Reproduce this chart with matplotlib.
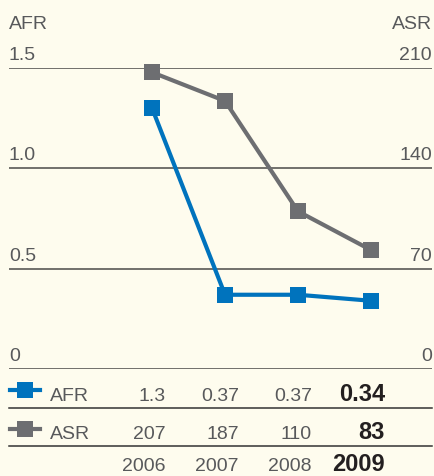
import matplotlib
matplotlib.use("Agg")
import matplotlib.pyplot as plt
from matplotlib import transforms
from matplotlib.lines import Line2D

plt.rcParams['font.family'] = ['Liberation Sans', 'DejaVu Sans']

# data
years = [2006, 2007, 2008, 2009]
afr = [1.3, 0.37, 0.37, 0.34]
asr = [207, 187, 110, 83]
afr_ticks = [0, 0.5, 1.0, 1.5]
asr_ticks = [0, 70, 140, 210]

BG = '#fefcee'
BLUE = '#0073bd'
GREY = '#6d6e71'
TXT = '#58595b'
DARK = '#231f20'
RULE = '#4a4a48'

W, H = 435, 477


def fx(px):
    return px / W


def fy(py):
    return 1 - py / H


fig = plt.figure(figsize=(W / 100, H / 100), dpi=100, facecolor=BG)
ax = fig.add_axes([fx(9), fy(370), fx(432) - fx(9), fy(69) - fy(370)])
ax.set_xlim(2004.04, 2009.836)
ax.set_ylim(0, 1.5)
ax.axis('off')

for v in afr_ticks:
    ax.axhline(v, color=RULE, lw=1.1, zorder=1)

ax2 = ax.twinx()
ax2.set_ylim(0, 210)
ax2.axis('off')

ax2.plot(years, asr, color=GREY, lw=3, marker='s', ms=12, mew=0, clip_on=False, zorder=3)
ax.plot(years, afr, color=BLUE, lw=3, marker='s', ms=12, mew=0, clip_on=False, zorder=3)

# axis labels sitting above the rules
ytr = ax.get_yaxis_transform()
ytr2 = ax2.get_yaxis_transform()
for v in afr_ticks:
    lab = '0' if v == 0 else f'{v:.1f}'
    ax.text(0, v + 0.045, lab, transform=ytr, ha='left', va='baseline', fontsize=14, color=TXT)
for v in asr_ticks:
    ax2.text(1, v + 6.3, str(v), transform=ytr2, ha='right', va='baseline', fontsize=14, color=TXT)
ax.text(0, 1.7, 'AFR', transform=ytr, ha='left', va='baseline', fontsize=14, color=TXT)
ax2.text(1, 238, 'ASR', transform=ytr2, ha='right', va='baseline', fontsize=14, color=TXT)

# table under the chart
tbl = transforms.blended_transform_factory(ax.transData, fig.transFigure)
rule_tr = transforms.blended_transform_factory(ax.transAxes, fig.transFigure)
for py in [409, 447]:
    ax.plot([0, 1], [fy(py)] * 2, transform=rule_tr, color='#333333', lw=1.1, clip_on=False)

rows = [(afr, [f'{v:g}' for v in afr], 401, BLUE, 'AFR', 390.5),
        (asr, [str(v) for v in asr], 439, GREY, 'ASR', 429.5)]
for vals, labels, base, col, name, my in rows:
    for i, (yr, lab) in enumerate(zip(years, labels)):
        last = i == len(years) - 1
        ax.text(yr + 0.19, fy(base), lab, transform=tbl, ha='right', va='baseline',
                fontsize=17 if last else 14, fontweight='bold' if last else 'normal',
                color=DARK if last else TXT)
    fig.add_artist(Line2D([fx(10), fx(40)], [fy(my)] * 2, transform=fig.transFigure, color=col, lw=3))
    fig.add_artist(Line2D([fx(25)], [fy(my)], transform=fig.transFigure, color=col,
                          marker='s', ms=11.5, mew=0, lw=0))
    fig.text(fx(50), fy(base), name, ha='left', va='baseline', fontsize=14, color=TXT)

for i, yr in enumerate(years):
    last = i == len(years) - 1
    ax.text(yr + 0.19, fy(471), str(yr), transform=tbl, ha='right', va='baseline',
            fontsize=17 if last else 14, fontweight='bold' if last else 'normal',
            color=DARK if last else TXT)

fig.savefig('out.png', dpi=100, facecolor=BG)
